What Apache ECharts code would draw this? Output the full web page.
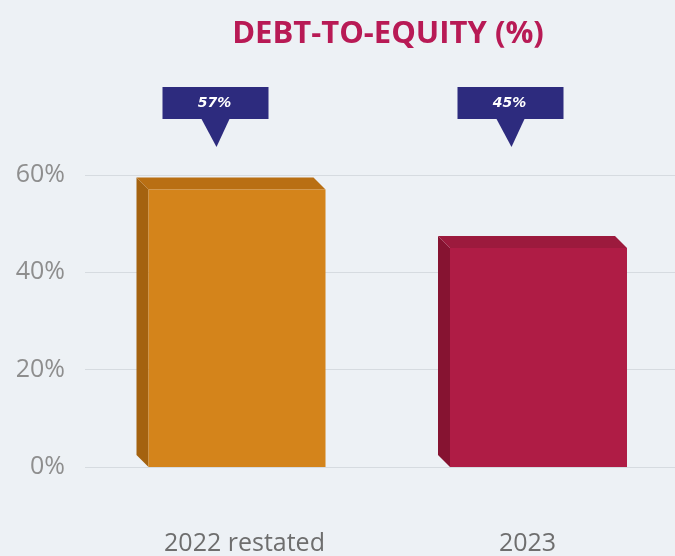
<!DOCTYPE html>
<html><head><meta charset="utf-8">
<script src="https://cdn.jsdelivr.net/npm/echarts@6/dist/echarts.min.js"></script>
<style>html,body{margin:0;padding:0;background:#edf1f5;}#c{width:675px;height:556px;}</style>
</head><body><div id="c"></div>
<script>
const categories = ['2022 restated', '2023'];
const values = [57, 45];
const valueLabels = ['57%', '45%'];
const yMin = 0, yMax = 60, yStep = 20;

const style = {
  face: ['#d4841b', '#af1c45'],
  side: ['#a4620f', '#861331'],
  top:  ['#b96f13', '#9c1a3d'],
  callout: '#2d2b7e',
  barShift: [4.5, 11],
  labelPad: [24, 0]
};

const chart = echarts.init(document.getElementById('c'), null, {renderer: 'canvas'});
chart.setOption({
  backgroundColor: '#edf1f5',
  animation: false,
  title: {
    text: 'DEBT-TO-EQUITY (%)',
    left: 383, top: 14, textAlign: 'center',
    textStyle: {color: '#b81a55', fontSize: 31, fontWeight: 'bold', fontFamily: 'Open Sans'}
  },
  grid: {left: 85, right: 0, top: 175, bottom: 88},
  xAxis: {
    type: 'category', data: categories,
    axisLine: {show: false}, axisTick: {show: false},
    axisLabel: {
      margin: 64,
      formatter: function (val, idx) { return '{c' + idx + '|' + val + '}'; },
      rich: {
        c0: {fontSize: 25, color: '#6e6e6e', fontFamily: 'Open Sans', padding: [0, 0, 0, style.labelPad[0]]},
        c1: {fontSize: 25, color: '#6e6e6e', fontFamily: 'Open Sans', padding: [0, 0, 0, style.labelPad[1]]}
      }
    }
  },
  yAxis: {
    type: 'value', min: yMin, max: yMax, interval: yStep,
    axisLabel: {formatter: '{value}%', fontSize: 25, color: '#8e8e8e', margin: 20, fontFamily: 'Open Sans'},
    splitLine: {lineStyle: {color: '#d6dbe0', width: 1}},
    axisLine: {show: false}, axisTick: {show: false}
  },
  series: [{
    type: 'custom',
    data: values.map((v, i) => [i, v]),
    clip: false,
    renderItem: function (params, api) {
      const i = api.value(0);
      const v = api.value(1);
      const top = api.coord([i, v]);
      const base = api.coord([i, 0]);
      const y60 = api.coord([i, yMax])[1];
      const band = api.size([1, 0])[0];
      const w = band * 0.6;
      const c = top[0] + style.barShift[i];
      const x0 = c - w / 2, x1 = c + w / 2;
      const d = 12, y0 = top[1], yb = base[1];
      const cx = top[0] - 17;
      const bw = 106, bTop = y60 - 88, bBot = y60 - 56;
      return {
        type: 'group',
        children: [
          {type: 'polygon', shape: {points: [[x0 - d, y0 - d], [x0, y0], [x0, yb], [x0 - d, yb - d]]},
           style: {fill: style.side[i]}},
          {type: 'polygon', shape: {points: [[x0 - d, y0 - d], [x1 - d, y0 - d], [x1, y0], [x0, y0]]},
           style: {fill: style.top[i]}},
          {type: 'rect', shape: {x: x0, y: y0, width: x1 - x0, height: yb - y0},
           style: {fill: style.face[i]}},
          {type: 'rect', shape: {x: cx - bw / 2, y: bTop, width: bw, height: bBot - bTop},
           style: {fill: style.callout}},
          {type: 'polygon', shape: {points: [[cx - 14, bBot], [cx + 14, bBot], [cx + 1, y60 - 28]]},
           style: {fill: style.callout}},
          {type: 'text', style: {text: valueLabels[i], x: cx - 1, y: (bTop + bBot) / 2,
            align: 'center', verticalAlign: 'middle', fill: '#ffffff',
            font: 'italic bold 14px "DejaVu Sans"'}}
        ]
      };
    }
  }]
});
</script></body></html>
